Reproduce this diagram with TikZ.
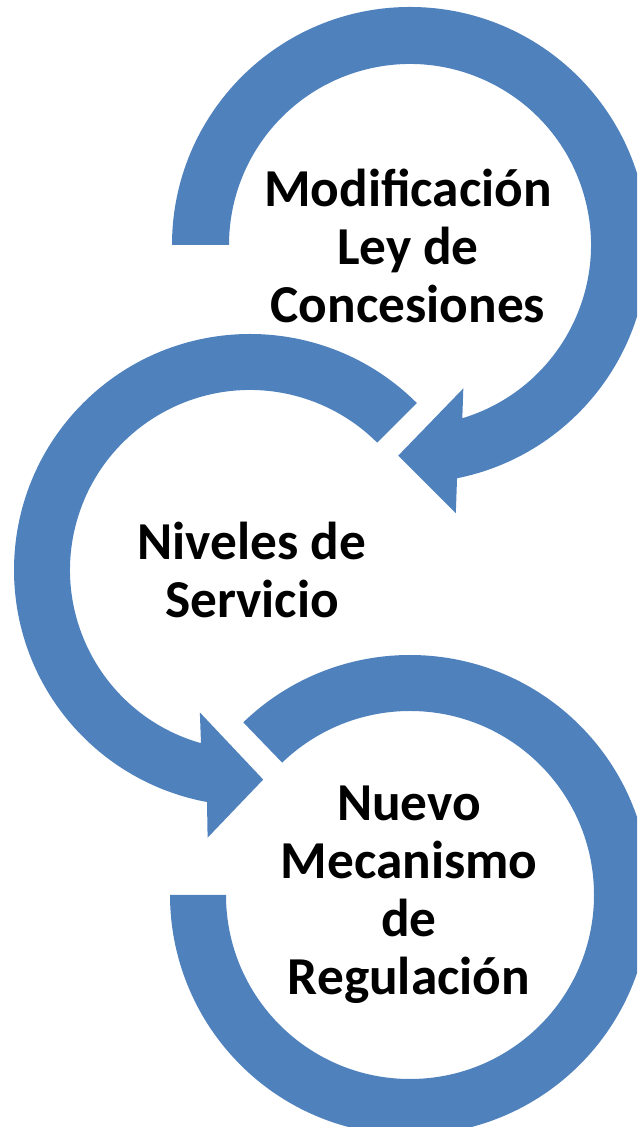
\documentclass[tikz,border=0pt]{standalone}
\usepackage{fontspec}
\setmainfont{Carlito}
\definecolor{ringblue}{HTML}{4F81BD}

\begin{document}
\begin{tikzpicture}[x=0.75pt, y=0.75pt,
        ring/.style={fill=ringblue, draw=none},
        ringtext/.style={font=\bfseries\fontsize{40}{43.5}\selectfont, align=center, inner sep=0pt}]
        \useasboundingbox (0, 0) rectangle (637, 1127);
        \clip (0, 0) rectangle (637, 1127);

        % Top ring, arrow pointing to the middle ring
        \fill[ring, shift={(410, 882)}] (180:238) arc[start angle=180, end angle=-78.6, radius=238]
            -- (-80.3:272) -- (-93.2:211) -- (-69.6:153) -- (-73.2:181)
            arc[start angle=-73.2, end angle=180, radius=181] -- cycle;

        % Middle ring, arrow pointing to the bottom ring
        \fill[ring, shift={(250, 557)}] (45:236) arc[start angle=45, end angle=259.5, radius=236]
            -- (261:271) -- (273.6:210) -- (250.6:151) -- (254.2:180)
            arc[start angle=254.2, end angle=45, radius=180] -- cycle;

        % Bottom ring
        \fill[ring, shift={(410, 232)}] (134:240) arc[start angle=134, end angle=-180, radius=240]
            -- (-180:184) arc[start angle=-180, end angle=134, radius=184] -- cycle;

        % Texts
        \node[ringtext] (mod) at (408, 881) {Modificación\\Ley de\\Concesiones};
        \node[ringtext] (niv) at (252, 557) {Niveles de\\Servicio};
        \node[ringtext] (nue) at (409, 232) {Nuevo\\Mecanismo\\de\\Regulación};
\end{tikzpicture}
\end{document}
